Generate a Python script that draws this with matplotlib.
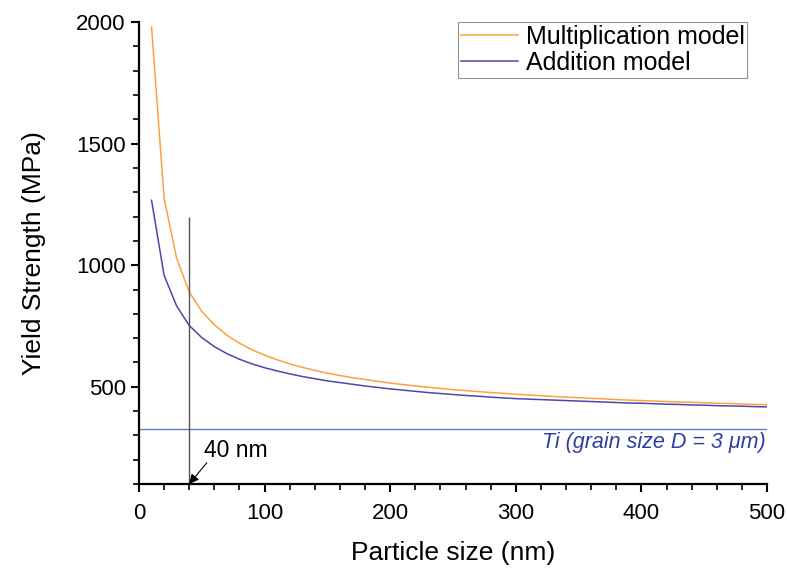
import matplotlib
matplotlib.use("Agg")
import matplotlib.pyplot as plt
from matplotlib.ticker import MultipleLocator

plt.rcParams['font.family'] = ['Liberation Sans', 'DejaVu Sans']

# Particle size (nm)
particle_size = [10, 20, 30, 40, 50, 60, 70, 80, 90, 100,
                 110, 120, 130, 140, 150, 160, 170, 180, 190, 200,
                 210, 220, 230, 240, 250, 260, 270, 280, 290, 300,
                 310, 320, 330, 340, 350, 360, 370, 380, 390, 400,
                 410, 420, 430, 440, 450, 460, 470, 480, 490, 500]

# Yield strength (MPa)
multiplication_model = [1980, 1275, 1028, 890, 810, 755, 712, 679, 652, 630,
                        611, 594, 580, 567, 556, 546, 537, 530, 522, 515,
                        509, 503, 498, 493, 488, 484, 480, 476, 473, 469,
                        466, 463, 460, 457, 455, 452, 450, 447, 445, 443,
                        441, 439, 437, 436, 434, 432, 431, 429, 427, 426]

addition_model = [1267, 958, 832, 752, 702, 665, 636, 613, 594, 578,
                  565, 553, 542, 533, 524, 517, 510, 503, 497, 491,
                  486, 481, 476, 472, 468, 464, 461, 457, 454, 451,
                  449, 447, 445, 443, 441, 439, 437, 435, 433, 432,
                  430, 428, 427, 425, 424, 422, 421, 420, 418, 417]

ti_strength = 325          # Ti, grain size D = 3 um
marker_size = 40           # highlighted particle size (nm)
marker_top = 1200

fig = plt.figure(figsize=(7.87, 5.68), dpi=100)
ax = fig.add_axes([0.1766, 0.148, 0.798, 0.813])

ax.plot(particle_size, multiplication_model, color='#FFA040', lw=1.1,
        label='Multiplication model')
ax.plot(particle_size, addition_model, color='#4A48A8', lw=1.1,
        label='Addition model')
ax.axhline(ti_strength, color='#6878C8', lw=1.0)
ax.vlines(marker_size, 100, marker_top, color='#555555', lw=1.0)

ax.text(499, ti_strength - 10, 'Ti (grain size D = 3 \u03bcm)', ha='right', va='top',
        style='italic', fontsize=15.5, color='#2E40A0')
ax.text(52, 237, '40 nm', fontsize=16.5, ha='left', va='center')
ax.annotate('', xy=(marker_size, 100), xytext=(54, 187),
            arrowprops=dict(arrowstyle='-|>', color='black', lw=0.8,
                            mutation_scale=14, shrinkA=0, shrinkB=0))

ax.set_xlim(0, 500)
ax.set_ylim(100, 2000)
ax.xaxis.set_major_locator(MultipleLocator(100))
ax.xaxis.set_minor_locator(MultipleLocator(20))
ax.set_yticks([500, 1000, 1500, 2000])
ax.yaxis.set_minor_locator(MultipleLocator(100))

for side in ('top', 'right'):
    ax.spines[side].set_visible(False)
for side in ('left', 'bottom'):
    ax.spines[side].set_linewidth(1.6)
ax.tick_params(which='major', direction='out', length=6, width=1.5, labelsize=16)
ax.tick_params(axis='x', which='major', pad=8)
ax.tick_params(which='minor', direction='out', length=4, width=1.2)

ax.set_xlabel('Particle size (nm)', fontsize=19, labelpad=12)
ax.set_ylabel('Yield Strength (MPa)', fontsize=19, labelpad=22)

leg = ax.legend(loc='upper right', bbox_to_anchor=(0.968, 1.0), fontsize=18,
                frameon=True, fancybox=False, borderpad=0.1, handlelength=2.3,
                labelspacing=0.1, handletextpad=0.3, borderaxespad=0)
leg.get_frame().set_edgecolor('#777777')
leg.get_frame().set_linewidth(0.8)

fig.savefig('out.png', dpi=100)
